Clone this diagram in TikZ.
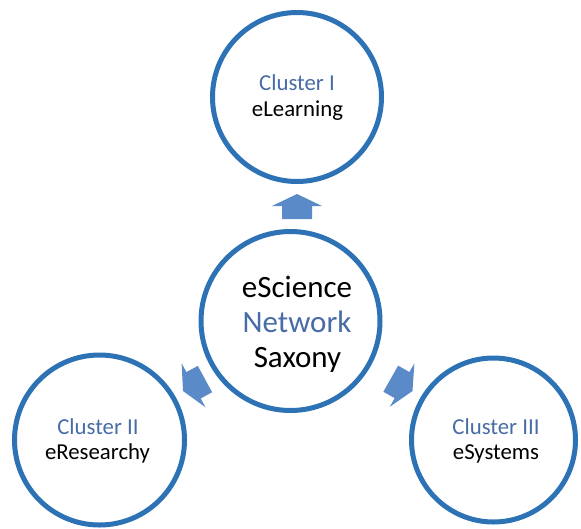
\documentclass[tikz,border=0pt]{standalone}
\usepackage{fontspec}
\setmainfont{Carlito}
\definecolor{ringblue}{RGB}{46,114,182}
\definecolor{arrowblue}{RGB}{90,138,200}
\definecolor{clusterblue}{RGB}{72,108,166}
\tikzset{
  ring/.style={circle, draw=ringblue, line width=5pt, fill=white, inner sep=0pt},
  smalltxt/.style={anchor=base, inner sep=0pt, font=\fontsize{22.8}{26}\selectfont},
  bigtxt/.style={anchor=base, inner sep=0pt, font=\fontsize{31}{35}\selectfont},
  blockarrow/.style={fill=arrowblue, draw=none}
}
\begin{document}
\begin{tikzpicture}[x=1pt, y=-1pt]
\useasboundingbox (0,0) rectangle (581,528);
% circles
\node[ring, minimum size=169pt] (top) at (297,97) {};
\node[ring, minimum size=179pt] (mid) at (290.5,321) {};
\node[ring, minimum size=170pt] (left) at (99.5,440) {};
\node[ring, minimum size=164pt] (right) at (493.5,440) {};
% texts
\node[smalltxt, text=clusterblue] (t1) at (297,90) {Cluster I};
\node[smalltxt] (t2) at (297.5,116) {eLearning};
\node[smalltxt, text=clusterblue] (l1) at (98,434) {Cluster II};
\node[smalltxt] (l2) at (97.5,459) {eResearchy};
\node[smalltxt, text=clusterblue] (r1) at (496,434) {Cluster III};
\node[smalltxt] (r2) at (496,459) {eSystems};
\node[bigtxt] (m1) at (297,297.7) {eScience};
\node[bigtxt, text=clusterblue] (m2) at (297,332.7) {Network};
\node[bigtxt] (m3) at (297.5,367.7) {Saxony};
% block arrows
\def\blockarrowpath{(0,0) -- (-12,25) -- (-12,15) -- (-25,15) -- (-25,-15) -- (-12,-15) -- (-12,-25) -- cycle}
\fill[blockarrow, shift={(297,194)}, rotate=90] \blockarrowpath;
\fill[blockarrow, shift={(183,391)}, rotate=208.5] \blockarrowpath;
\fill[blockarrow, shift={(412.5,391)}, rotate=-29.5] \blockarrowpath;
\end{tikzpicture}
\end{document}
